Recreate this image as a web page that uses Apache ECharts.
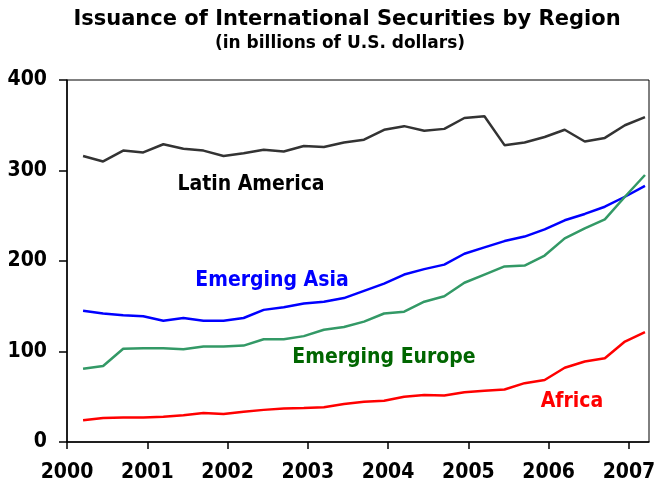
<!DOCTYPE html>
<html>
<head>
<meta charset="utf-8">
<script src="https://cdn.jsdelivr.net/npm/echarts@6/dist/echarts.min.js"></script>
<style>
  html, body { margin: 0; padding: 0; background: #fff; }
  #chart { width: 660px; height: 489px; }
</style>
</head>
<body>
<div id="chart"></div>
<script>
// quarterly observations, 2000Q1 .. 2007Q1
var quarters = [];
for (var yr = 2000; yr <= 2007; yr++) {
  for (var q = 1; q <= 4; q++) {
    if (yr === 2007 && q > 1) break;
    quarters.push(yr + 'Q' + q);
  }
}
var yearTicks = [2000, 2001, 2002, 2003, 2004, 2005, 2006, 2007];

var latinAmerica = [316, 310, 322, 320, 329, 324, 322, 316, 319, 323, 321, 327, 326, 331,
  334, 345, 349, 344, 346, 358, 360, 328, 331, 337, 345, 332, 336, 350, 359];
var emergingAsia = [145, 142, 140, 139, 134, 137, 134, 134, 137, 146, 149, 153, 155, 159,
  167, 175, 185, 191, 196, 208, 215, 222, 227, 235, 245, 252, 260, 271, 283];
var emergingEurope = [81, 84, 103, 103.5, 103.5, 102.5, 105.5, 105.5, 106.5, 113.5, 113.5, 117, 124, 127,
  133, 142, 144, 155, 161, 176, 185, 194, 195, 206, 225, 236, 246, 271, 295];
var africa = [24, 26.5, 27, 27, 28, 29.5, 32, 31, 33.5, 35.5, 37, 37.5, 38.5, 42,
  44.5, 45.5, 50, 52, 51.5, 55, 56.5, 58, 65, 68.5, 82, 89, 92.5, 111, 121.5];

// quarter label -> position on the year axis
function quarterPos(label) {
  var y = parseInt(label.slice(0, 4), 10), q = parseInt(label.slice(5), 10);
  return y + 0.2 + (q - 1) * 0.25;
}
function pairs(values) {
  return quarters.map(function (qt, i) { return [quarterPos(qt), values[i]]; });
}

var FONT = '"DejaVu Sans Condensed", "DejaVu Sans", sans-serif';
var WIDE = '"DejaVu Sans", sans-serif';
var myChart = echarts.init(document.getElementById('chart'));

function seriesLine(name, data, color) {
  return {
    name: name,
    type: 'line',
    data: pairs(data),
    showSymbol: false,
    symbol: 'none',
    lineStyle: { color: color, width: 2.5 },
    itemStyle: { color: color },
    animation: false
  };
}

var option = {
  backgroundColor: '#fff',
  title: [{
    text: 'Issuance of International Securities by Region',
    left: 342,
    top: 4,
    textAlign: 'center',
    textStyle: { fontFamily: WIDE, fontWeight: 'bold', fontSize: 21, color: '#000' }
  }, {
    text: '(in billions of U.S. dollars)',
    left: 335,
    top: 30,
    textAlign: 'center',
    textStyle: { fontFamily: WIDE, fontWeight: 'bold', fontSize: 17, color: '#000' }
  }],
  grid: {
    left: 67, right: 11, top: 80, bottom: 47,
    show: true, borderColor: '#000', borderWidth: 1,
    outerBoundsMode: 'none'
  },
  xAxis: {
    type: 'value',
    min: 2000,
    max: 2007.25,
    interval: 1,
    splitLine: { show: false },
    axisLine: { lineStyle: { color: '#000', width: 1.5 } },
    axisTick: { show: true, inside: false, length: 7, customValues: yearTicks, lineStyle: { color: '#000', width: 1.5 } },
    axisLabel: {
      customValues: yearTicks,
      margin: 20,
      fontFamily: FONT, fontWeight: 'bold', fontSize: 21, color: '#000',
      formatter: function (v) { return String(v); }
    }
  },
  yAxis: {
    type: 'value',
    min: 0,
    max: 400,
    interval: 100,
    splitLine: { show: false },
    axisLine: { show: true, lineStyle: { color: '#000', width: 1.5 } },
    axisTick: { show: true, inside: false, length: 8, lineStyle: { color: '#000', width: 1.5 } },
    axisLabel: { margin: 20, fontFamily: FONT, fontWeight: 'bold', fontSize: 21, color: '#000' }
  },
  series: [
    seriesLine('Latin America', latinAmerica, '#333333'),
    seriesLine('Emerging Asia', emergingAsia, '#0000ff'),
    seriesLine('Emerging Europe', emergingEurope, '#339966'),
    seriesLine('Africa', africa, '#ff0000')
  ],
  graphic: [
    { type: 'text', x: 251, y: 185, style: { text: 'Latin America', fill: '#000', font: 'bold 21px ' + FONT, textAlign: 'center', textVerticalAlign: 'middle' } },
    { type: 'text', x: 272, y: 281, style: { text: 'Emerging Asia', fill: '#0000ff', font: 'bold 21px ' + FONT, textAlign: 'center', textVerticalAlign: 'middle' } },
    { type: 'text', x: 384, y: 358, style: { text: 'Emerging Europe', fill: '#006600', font: 'bold 21px ' + FONT, textAlign: 'center', textVerticalAlign: 'middle' } },
    { type: 'text', x: 572, y: 402, style: { text: 'Africa', fill: '#ff0000', font: 'bold 21px ' + FONT, textAlign: 'center', textVerticalAlign: 'middle' } }
  ]
};
myChart.setOption(option, true);
</script>
</body>
</html>
